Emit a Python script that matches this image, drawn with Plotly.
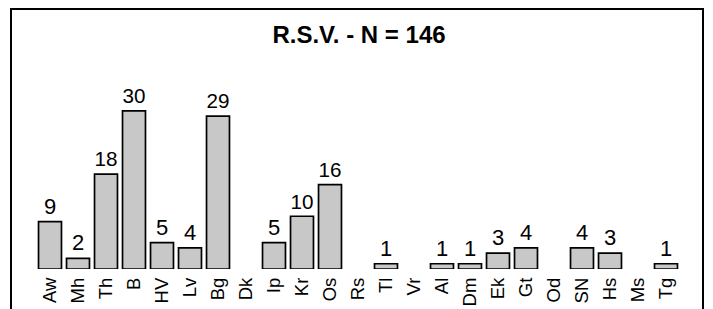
import plotly.graph_objects as go

categories = ["Aw", "Mh", "Th", "B", "HV", "Lv", "Bg", "Dk", "Ip", "Kr", "Os", "Rs",
              "Tl", "Vr", "Al", "Dm", "Ek", "Gt", "Od", "SN", "Hs", "Ms", "Tg"]
counts = [9, 2, 18, 30, 5, 4, 29, 0, 5, 10, 16, 0,
          1, 0, 1, 1, 3, 4, 0, 4, 3, 0, 1]
title_text = "R.S.V. - N = 146"

WIN_W, WIN_H = 713, 309
OFF = 8  # page body margin offset of the figure inside the window
W, H = WIN_W - OFF, WIN_H - OFF
# target (window-pixel) geometry
PL, PR, PT, PB = 36, 680, 95, 269
ML, MT = PL - OFF, PT - OFF
MR = W - (PR - OFF)
MB = H - (PB - OFF)
FONT = "Arial, Liberation Sans, sans-serif"

fig = go.Figure(
    go.Bar(
        x=categories,
        y=[v if v else None for v in counts],
        text=[str(v) if v else "" for v in counts],
        textposition="outside",
        textfont=dict(size=22, color="black", family=FONT),
        cliponaxis=False,
        marker=dict(color="#c8c8c8", line=dict(color="black", width=1.7)),
        hoverinfo="skip",
    )
)

pw = PR - PL
ph = PB - PT
fig.add_shape(type="rect", xref="paper", yref="paper",
              x0=(11 - PL) / pw, x1=(703 - PL) / pw,
              y0=(PB - 340) / ph, y1=(PB - 9) / ph,
              line=dict(color="black", width=2), fillcolor="rgba(0,0,0,0)", layer="above")

fig.update_layout(
    width=W, height=H,
    margin=dict(l=ML, r=MR, t=MT, b=MB, autoexpand=False),
    paper_bgcolor="white", plot_bgcolor="white",
    bargap=0.18,
    showlegend=False,
    title=dict(text="<b>" + title_text + "</b>", x=(359 - OFF) / W, xanchor="center",
               y=1 - (35 - OFF) / H, yanchor="middle", yref="container",
               font=dict(size=24, color="black", family=FONT)),
    xaxis=dict(type="category", tickangle=-90, showgrid=False, showline=False,
               zeroline=False, ticks="", ticklabelstandoff=4, automargin=False,
               tickfont=dict(size=18.5, color="black", family=FONT),
               range=[-0.5, len(categories) - 0.5]),
    yaxis=dict(range=[0, 33], showgrid=False, showline=False, zeroline=False,
               showticklabels=False, ticks="", automargin=False),
)

fig.write_html("out.html")
